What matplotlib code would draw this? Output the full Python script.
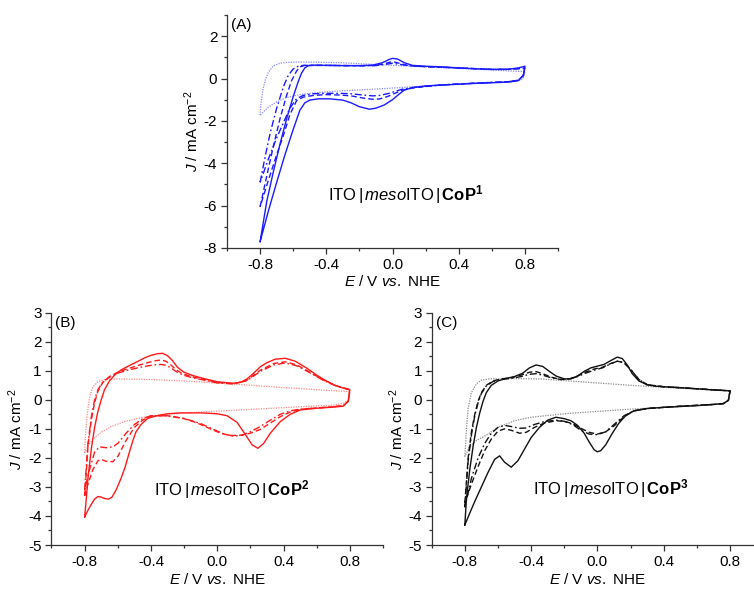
import matplotlib
matplotlib.use("Agg")
import matplotlib.pyplot as plt
from matplotlib.ticker import FixedLocator, FormatStrFormatter

plt.rcParams['font.family'] = ['Liberation Sans', 'DejaVu Sans']
plt.rcParams['mathtext.fontset'] = 'custom'
plt.rcParams['mathtext.rm'] = 'Liberation Sans'
plt.rcParams['mathtext.it'] = 'Liberation Sans:italic'
plt.rcParams['mathtext.bf'] = 'Liberation Sans:bold'
plt.rcParams['axes.unicode_minus'] = False

# ---------------- Panel A (CoP1, blue) ----------------
A_sol_ux = [-0.80,-0.76,-0.72,-0.68,-0.64,-0.60,-0.57,-0.55,-0.53,-0.51,-0.48,-0.40,-0.30,-0.20,-0.12,-0.06,-0.02,0.00,0.03,0.07,0.12,0.20,0.30,0.40,0.50,0.60,0.70,0.76,0.80]
A_sol_uy = [-7.70,-5.80,-4.40,-3.10,-1.90,-0.85,-0.15,0.25,0.50,0.60,0.63,0.62,0.61,0.61,0.63,0.75,0.90,0.95,0.92,0.75,0.62,0.58,0.55,0.50,0.46,0.43,0.44,0.50,0.58]
A_sol_lx = [0.80,0.79,0.76,0.70,0.60,0.50,0.40,0.30,0.20,0.12,0.07,0.03,0.00,-0.05,-0.10,-0.14,-0.20,-0.25,-0.30,-0.38,-0.45,-0.50,-0.53,-0.56,-0.60,-0.65,-0.70,-0.75,-0.80]
A_sol_ly = [0.58,0.15,-0.10,-0.17,-0.20,-0.23,-0.27,-0.31,-0.35,-0.43,-0.55,-0.80,-1.00,-1.25,-1.40,-1.45,-1.33,-1.15,-1.02,-0.96,-0.96,-1.02,-1.15,-1.50,-2.40,-3.60,-4.90,-6.25,-7.70]

A_dsh_ux = [-0.80,-0.76,-0.72,-0.68,-0.64,-0.61,-0.58,-0.56,-0.53,-0.48,-0.40,-0.30,-0.20,-0.10,-0.05,0.00,0.05,0.10,0.20,0.40,0.60,0.70,0.80]
A_dsh_uy = [-6.05,-4.60,-3.20,-1.90,-0.80,-0.10,0.35,0.55,0.62,0.62,0.62,0.61,0.60,0.62,0.70,0.80,0.70,0.60,0.56,0.50,0.43,0.43,0.50]
A_dsh_lx = [0.80,0.79,0.76,0.70,0.50,0.30,0.20,0.12,0.06,0.02,-0.03,-0.08,-0.12,-0.18,-0.25,-0.32,-0.40,-0.48,-0.54,-0.58,-0.62,-0.66,-0.70,-0.75,-0.80]
A_dsh_ly = [0.50,0.15,-0.08,-0.15,-0.22,-0.30,-0.38,-0.45,-0.55,-0.68,-0.85,-0.97,-0.98,-0.92,-0.82,-0.78,-0.76,-0.80,-0.88,-1.05,-1.70,-2.70,-3.60,-4.80,-6.05]

A_dd_ux = [-0.80,-0.77,-0.74,-0.70,-0.66,-0.63,-0.60,-0.57,-0.54,-0.50,-0.40,-0.30,-0.20,-0.10,-0.05,0.00,0.05,0.10,0.20,0.40,0.60,0.70,0.80]
A_dd_uy = [-4.90,-3.70,-2.60,-1.40,-0.40,0.15,0.45,0.58,0.62,0.62,0.62,0.61,0.60,0.61,0.66,0.72,0.66,0.60,0.56,0.50,0.43,0.43,0.48]
A_dd_lx = [0.80,0.79,0.76,0.70,0.50,0.30,0.20,0.12,0.06,0.02,-0.03,-0.08,-0.12,-0.18,-0.25,-0.32,-0.40,-0.48,-0.54,-0.58,-0.62,-0.66,-0.70,-0.75,-0.80]
A_dd_ly = [0.48,0.12,-0.08,-0.15,-0.22,-0.30,-0.37,-0.43,-0.50,-0.60,-0.72,-0.80,-0.82,-0.78,-0.72,-0.70,-0.70,-0.72,-0.80,-0.95,-1.40,-2.10,-2.80,-3.80,-4.90]

A_dot_ux = [-0.80,-0.795,-0.785,-0.77,-0.75,-0.72,-0.68,-0.64,-0.56,-0.45,-0.30,-0.15,0.00,0.20,0.40,0.60,0.80]
A_dot_uy = [-1.73,-1.20,-0.60,-0.10,0.30,0.60,0.72,0.76,0.78,0.77,0.74,0.68,0.62,0.55,0.47,0.40,0.32]
A_dot_lx = [0.80,0.79,0.76,0.70,0.50,0.30,0.10,-0.10,-0.30,-0.45,-0.56,-0.64,-0.70,-0.75,-0.80]
A_dot_ly = [0.32,0.00,-0.12,-0.15,-0.22,-0.30,-0.40,-0.50,-0.58,-0.66,-0.76,-0.90,-1.10,-1.35,-1.73]

# ---------------- Panel B (CoP2, red) ----------------
B_sol_ux = [-0.80,-0.79,-0.78,-0.76,-0.74,-0.72,-0.70,-0.68,-0.65,-0.62,-0.58,-0.53,-0.48,-0.44,-0.40,-0.36,-0.33,-0.30,-0.27,-0.24,-0.20,-0.15,-0.10,0.00,0.10,0.14,0.18,0.22,0.26,0.30,0.35,0.41,0.47,0.54,0.60,0.64,0.70,0.75,0.80]
B_sol_uy = [-4.03,-3.40,-2.70,-1.70,-0.95,-0.40,0.00,0.35,0.65,0.85,1.03,1.18,1.32,1.44,1.53,1.59,1.60,1.52,1.35,1.12,0.95,0.84,0.76,0.62,0.57,0.60,0.72,0.92,1.14,1.28,1.40,1.43,1.33,1.09,0.85,0.71,0.52,0.42,0.34]
B_sol_lx = [0.80,0.79,0.76,0.70,0.60,0.50,0.44,0.38,0.32,0.28,0.245,0.21,0.17,0.12,0.06,0.00,-0.10,-0.22,-0.30,-0.36,-0.42,-0.46,-0.49,-0.51,-0.53,-0.555,-0.58,-0.61,-0.635,-0.655,-0.68,-0.70,-0.72,-0.74,-0.76,-0.78,-0.80]
B_sol_ly = [0.34,-0.05,-0.22,-0.25,-0.29,-0.35,-0.50,-0.75,-1.15,-1.50,-1.67,-1.55,-1.20,-0.78,-0.55,-0.48,-0.45,-0.45,-0.48,-0.54,-0.64,-0.85,-1.10,-1.42,-1.80,-2.30,-2.70,-3.10,-3.35,-3.42,-3.40,-3.35,-3.33,-3.42,-3.60,-3.80,-4.03]

B_dsh_ux = [-0.80,-0.79,-0.78,-0.76,-0.74,-0.72,-0.69,-0.65,-0.60,-0.54,-0.48,-0.42,-0.37,-0.34,-0.31,-0.28,-0.25,-0.21,-0.15,-0.08,0.00,0.10,0.18,0.26,0.34,0.41,0.48,0.55,0.64,0.72,0.80]
B_dsh_uy = [-3.30,-2.50,-1.60,-0.70,-0.10,0.30,0.60,0.80,0.95,1.07,1.18,1.28,1.35,1.37,1.33,1.20,1.04,0.90,0.79,0.70,0.60,0.55,0.68,1.02,1.25,1.31,1.20,0.98,0.68,0.48,0.35]
B_dsh_lx = [0.80,0.79,0.76,0.70,0.60,0.50,0.44,0.38,0.32,0.26,0.20,0.14,0.08,0.02,-0.05,-0.12,-0.20,-0.30,-0.40,-0.45,-0.50,-0.55,-0.60,-0.63,-0.67,-0.70,-0.72,-0.75,-0.78,-0.80]
B_dsh_ly = [0.35,-0.05,-0.20,-0.24,-0.28,-0.33,-0.42,-0.58,-0.80,-1.02,-1.15,-1.22,-1.23,-1.15,-0.98,-0.80,-0.65,-0.55,-0.55,-0.70,-0.95,-1.40,-1.95,-2.13,-2.12,-2.05,-2.10,-2.40,-2.90,-3.30]

B_dd_ux = [-0.80,-0.79,-0.78,-0.76,-0.74,-0.72,-0.69,-0.65,-0.60,-0.54,-0.48,-0.42,-0.37,-0.34,-0.31,-0.28,-0.25,-0.21,-0.15,-0.08,0.00,0.10,0.18,0.26,0.34,0.41,0.48,0.55,0.64,0.72,0.80]
B_dd_uy = [-3.10,-2.30,-1.50,-0.60,0.00,0.35,0.62,0.78,0.92,1.02,1.10,1.17,1.21,1.22,1.19,1.10,0.98,0.86,0.76,0.68,0.58,0.55,0.66,0.98,1.20,1.27,1.17,0.96,0.67,0.47,0.35]
B_dd_lx = [0.80,0.79,0.76,0.70,0.60,0.50,0.44,0.38,0.32,0.26,0.20,0.15,0.10,0.04,-0.03,-0.10,-0.20,-0.30,-0.40,-0.45,-0.50,-0.55,-0.60,-0.63,-0.67,-0.71,-0.74,-0.77,-0.80]
B_dd_ly = [0.35,-0.05,-0.20,-0.24,-0.28,-0.32,-0.38,-0.50,-0.70,-0.92,-1.10,-1.22,-1.25,-1.18,-1.00,-0.82,-0.64,-0.55,-0.55,-0.65,-0.85,-1.15,-1.50,-1.62,-1.65,-1.62,-1.80,-2.40,-3.10]

B_dot_ux = [-0.80,-0.795,-0.785,-0.77,-0.75,-0.72,-0.68,-0.60,-0.40,-0.20,0.00,0.20,0.40,0.60,0.80]
B_dot_uy = [-1.82,-1.20,-0.50,0.10,0.45,0.62,0.70,0.72,0.70,0.65,0.58,0.50,0.42,0.35,0.28]
B_dot_lx = [0.80,0.79,0.76,0.70,0.50,0.30,0.10,-0.10,-0.30,-0.45,-0.56,-0.64,-0.70,-0.74,-0.77,-0.80]
B_dot_ly = [0.28,-0.02,-0.12,-0.18,-0.24,-0.30,-0.36,-0.42,-0.50,-0.60,-0.75,-0.92,-1.12,-1.30,-1.50,-1.82]

# ---------------- Panel C (CoP3, black) ----------------
C_sol_ux = [-0.80,-0.79,-0.77,-0.75,-0.73,-0.71,-0.69,-0.67,-0.64,-0.60,-0.55,-0.50,-0.45,-0.41,-0.37,-0.33,-0.29,-0.25,-0.20,-0.16,-0.12,-0.08,-0.04,0.00,0.04,0.08,0.12,0.15,0.18,0.21,0.25,0.30,0.35,0.40,0.50,0.60,0.70,0.80]
C_sol_uy = [-4.31,-3.40,-2.40,-1.60,-0.95,-0.45,-0.05,0.25,0.50,0.65,0.74,0.80,0.92,1.10,1.20,1.15,0.98,0.82,0.72,0.72,0.82,0.98,1.10,1.16,1.22,1.35,1.47,1.42,1.20,0.90,0.65,0.52,0.47,0.45,0.42,0.38,0.34,0.31]
C_sol_lx = [0.80,0.79,0.76,0.70,0.60,0.50,0.40,0.30,0.22,0.17,0.13,0.09,0.05,0.02,0.00,-0.02,-0.05,-0.08,-0.12,-0.16,-0.20,-0.25,-0.30,-0.35,-0.40,-0.44,-0.48,-0.52,-0.56,-0.59,-0.62,-0.66,-0.70,-0.74,-0.77,-0.80]
C_sol_ly = [0.31,-0.02,-0.13,-0.16,-0.20,-0.23,-0.26,-0.30,-0.38,-0.55,-0.80,-1.15,-1.55,-1.75,-1.79,-1.72,-1.45,-1.15,-0.88,-0.72,-0.65,-0.60,-0.70,-0.95,-1.30,-1.70,-2.10,-2.32,-2.15,-1.93,-2.05,-2.50,-3.00,-3.50,-3.90,-4.31]

C_dsh_ux = [-0.80,-0.79,-0.78,-0.76,-0.74,-0.72,-0.70,-0.67,-0.63,-0.58,-0.52,-0.46,-0.41,-0.37,-0.33,-0.28,-0.22,-0.17,-0.12,-0.07,-0.02,0.03,0.08,0.12,0.16,0.20,0.25,0.30,0.40,0.60,0.80]
C_dsh_uy = [-3.55,-2.80,-2.00,-1.10,-0.50,-0.05,0.25,0.50,0.65,0.72,0.76,0.85,0.95,0.97,0.90,0.78,0.70,0.72,0.82,0.96,1.06,1.12,1.25,1.33,1.28,1.05,0.70,0.52,0.45,0.38,0.31]
C_dsh_lx = [0.80,0.79,0.76,0.70,0.50,0.30,0.22,0.16,0.10,0.05,0.00,-0.05,-0.10,-0.15,-0.20,-0.25,-0.32,-0.38,-0.43,-0.47,-0.52,-0.56,-0.60,-0.64,-0.68,-0.72,-0.76,-0.80]
C_dsh_ly = [0.31,-0.02,-0.13,-0.16,-0.22,-0.30,-0.38,-0.58,-0.90,-1.10,-1.18,-1.12,-0.98,-0.82,-0.74,-0.72,-0.80,-0.95,-1.12,-1.15,-1.05,-1.00,-1.08,-1.35,-1.75,-2.30,-2.90,-3.55]

C_dd_ux = [-0.80,-0.79,-0.78,-0.76,-0.74,-0.72,-0.70,-0.67,-0.63,-0.58,-0.52,-0.46,-0.41,-0.37,-0.33,-0.28,-0.22,-0.17,-0.12,-0.07,-0.02,0.03,0.08,0.12,0.16,0.20,0.25,0.30,0.40,0.60,0.80]
C_dd_uy = [-3.70,-2.90,-2.10,-1.20,-0.55,-0.10,0.22,0.48,0.63,0.70,0.74,0.80,0.88,0.90,0.85,0.76,0.70,0.72,0.80,0.92,1.02,1.10,1.24,1.33,1.28,1.05,0.70,0.52,0.45,0.38,0.31]
C_dd_lx = [0.80,0.79,0.76,0.70,0.50,0.30,0.22,0.16,0.10,0.05,0.00,-0.05,-0.10,-0.15,-0.20,-0.25,-0.32,-0.38,-0.43,-0.47,-0.52,-0.56,-0.60,-0.64,-0.68,-0.72,-0.76,-0.80]
C_dd_ly = [0.31,-0.02,-0.13,-0.16,-0.22,-0.30,-0.38,-0.55,-0.85,-1.10,-1.20,-1.18,-1.05,-0.85,-0.74,-0.70,-0.75,-0.85,-0.97,-0.98,-0.92,-0.88,-0.95,-1.15,-1.50,-2.00,-2.70,-3.70]

C_dot_ux = [-0.80,-0.79,-0.78,-0.76,-0.73,-0.70,-0.65,-0.50,-0.35,-0.20,0.00,0.20,0.40,0.60,0.80]
C_dot_uy = [-1.95,-1.00,-0.30,0.25,0.55,0.68,0.72,0.73,0.72,0.66,0.58,0.50,0.43,0.37,0.30]
C_dot_lx = [0.80,0.79,0.76,0.60,0.40,0.20,0.00,-0.20,-0.40,-0.50,-0.60,-0.68,-0.73,-0.77,-0.80]
C_dot_ly = [0.30,-0.02,-0.12,-0.20,-0.26,-0.32,-0.40,-0.48,-0.60,-0.72,-0.95,-1.25,-1.40,-1.60,-1.95]

x_major = [-0.8, -0.4, 0.0, 0.4, 0.8]
x_minor = [-1.0, -0.6, -0.2, 0.2, 0.6, 1.0]

fig = plt.figure(figsize=(7.54, 5.89), dpi=100)

axA = fig.add_axes([0.3011, 0.5790, 0.4390, 0.3956])
axB = fig.add_axes([0.0683, 0.0747, 0.4397, 0.3944])
axC = fig.add_axes([0.5725, 0.0747, 0.4397, 0.3944])

styles = {
    'sol': dict(linestyle='-'),
    'dsh': dict(linestyle=(0, (4.0, 2.2))),
    'dd': dict(linestyle=(0, (5.0, 2.0, 1.2, 2.0))),
    'dot': dict(linestyle=(0, (1.0, 1.0))),
}

def draw(ax, curves, col, dotcol):
    for key, (ux, uy, lx, ly) in curves.items():
        c = dotcol if key == 'dot' else col
        ax.plot(list(ux) + list(lx), list(uy) + list(ly), color=c,
                lw=1.0 if key != 'dot' else 0.9, **styles[key])

draw(axA, {'dot': (A_dot_ux, A_dot_uy, A_dot_lx, A_dot_ly),
           'dd': (A_dd_ux, A_dd_uy, A_dd_lx, A_dd_ly),
           'dsh': (A_dsh_ux, A_dsh_uy, A_dsh_lx, A_dsh_ly),
           'sol': (A_sol_ux, A_sol_uy, A_sol_lx, A_sol_ly)}, '#1a1aff', '#8a8aff')
draw(axB, {'dot': (B_dot_ux, B_dot_uy, B_dot_lx, B_dot_ly),
           'dd': (B_dd_ux, B_dd_uy, B_dd_lx, B_dd_ly),
           'dsh': (B_dsh_ux, B_dsh_uy, B_dsh_lx, B_dsh_ly),
           'sol': (B_sol_ux, B_sol_uy, B_sol_lx, B_sol_ly)}, '#ff1a1a', '#ff8a8a')
draw(axC, {'dot': (C_dot_ux, C_dot_uy, C_dot_lx, C_dot_ly),
           'dd': (C_dd_ux, C_dd_uy, C_dd_lx, C_dd_ly),
           'dsh': (C_dsh_ux, C_dsh_uy, C_dsh_lx, C_dsh_ly),
           'sol': (C_sol_ux, C_sol_uy, C_sol_lx, C_sol_ly)}, '#111111', '#8c8c8c')

spine_col = '#333333'

def style_axes(ax, ylim, ymaj, ymin, tag, txt, tpos):
    ax.set_xlim(-1.0, 1.0)
    ax.set_ylim(*ylim)
    for s in ['top', 'right']:
        ax.spines[s].set_visible(False)
    for s in ['left', 'bottom']:
        ax.spines[s].set_color(spine_col)
        ax.spines[s].set_linewidth(0.9)
    ax.xaxis.set_major_locator(FixedLocator(x_major))
    ax.xaxis.set_minor_locator(FixedLocator(x_minor))
    ax.yaxis.set_major_locator(FixedLocator(ymaj))
    ax.yaxis.set_minor_locator(FixedLocator(ymin))
    ax.xaxis.set_major_formatter(FormatStrFormatter('%.1f'))
    ax.yaxis.set_major_formatter(FormatStrFormatter('%d'))
    ax.tick_params(which='major', direction='out', length=4, width=0.9,
                   color=spine_col, labelsize=11, pad=3)
    ax.tick_params(which='minor', direction='out', length=2.5, width=0.9,
                   color=spine_col)
    ax.set_xlabel(r'$\mathit{E}$ / V $\mathit{vs.}$ NHE', fontsize=11, labelpad=2)
    ax.set_ylabel(r'$\mathit{J}$ / mA cm$^{-2}$', fontsize=11, labelpad=2)
    ax.text(0.012, 0.985, tag, transform=ax.transAxes, ha='left', va='top', fontsize=11)
    ax.text(tpos[0], tpos[1], txt, ha='left', va='center', fontsize=12)

style_axes(axA, (-8, 3), [-8, -6, -4, -2, 0, 2], [-7, -5, -3, -1, 1, 3],
           '(A)', r'ITO$\,|\,\mathit{meso}$ITO$\,|\,\mathbf{CoP}^{\mathbf{1}}$', (-0.39, -5.5))
style_axes(axB, (-5, 3), [-5, -4, -3, -2, -1, 0, 1, 2, 3], [-4.5, -3.5, -2.5, -1.5, -0.5, 0.5, 1.5, 2.5],
           '(B)', r'ITO$\,|\,\mathit{meso}$ITO$\,|\,\mathbf{CoP}^{\mathbf{2}}$', (-0.38, -3.1))
style_axes(axC, (-5, 3), [-5, -4, -3, -2, -1, 0, 1, 2, 3], [-4.5, -3.5, -2.5, -1.5, -0.5, 0.5, 1.5, 2.5],
           '(C)', r'ITO$\,|\,\mathit{meso}$ITO$\,|\,\mathbf{CoP}^{\mathbf{3}}$', (-0.39, -3.05))

fig.savefig('out.png', dpi=100)
